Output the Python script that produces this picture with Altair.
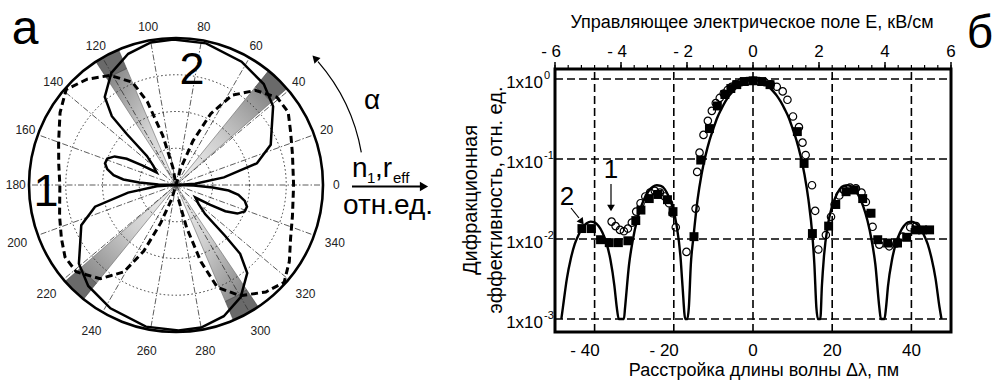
import math
import altair as alt
import pandas as pd

FONT = "Liberation Sans"

# ===================== panel "б" (right) : data =====================
pm_limits = [-50, 50]
eff_limits = [10 ** -3.1625, 10 ** 0.125]
kv_limits = [-6, 6]

theory_pm = [-48.4, -48.0, -47.0, -46.0, -45.0, -44.0, -43.0, -42.0, -41.0, -40.0, -39.0, -38.0, -37.0, -36.0, -35.0,
             -34.4, -33.9, -32.6, -32.3, -31.3, -30.3, -29.3, -28.3, -27.3, -26.3, -25.3, -24.3, -23.3, -22.3, -21.3,
             -20.3, -19.3, -18.3, -17.8, -17.1, -16.6, -16.2, -15.7, -15.0, -14.0, -13.0, -12.0, -11.0, -10.0, -9.0,
             -8.0, -7.0, -6.0, -5.0, -4.0, -3.0, -2.0, -1.0, 0.0, 1.0, 2.0, 3.0, 4.0, 5.0, 6.0, 7.0, 8.0, 9.0, 10.0,
             11.0, 12.0, 13.0, 14.0, 15.0, 15.5, 16.0, 16.4, 17.0, 17.4, 17.9, 18.9, 19.9, 20.9, 21.9, 22.9, 23.9, 24.9,
             25.9, 26.9, 27.9, 28.9, 29.9, 30.9, 31.9, 32.3, 33.2, 33.6, 34.1, 35.1, 36.1, 37.1, 38.1, 39.1, 40.1, 41.1,
             42.1, 43.1, 44.1, 45.1, 46.1, 47.1, 47.6]
theory_eff = [0.001, 0.0014, 0.0032, 0.0057, 0.0087, 0.0114, 0.014, 0.0157, 0.0165, 0.0161, 0.0145, 0.012, 0.0089,
              0.0055, 0.0026, 0.0014, 0.001, 0.001, 0.0014, 0.0048, 0.010, 0.017, 0.025, 0.033, 0.040, 0.045, 0.047,
              0.046, 0.042, 0.034, 0.025, 0.0149, 0.0059, 0.0026, 0.001, 0.001, 0.0014, 0.0048, 0.011, 0.031, 0.064,
              0.11, 0.17, 0.24, 0.33, 0.42, 0.52, 0.62, 0.71, 0.80, 0.87, 0.93, 0.96, 0.97, 0.96, 0.93, 0.87, 0.80,
              0.71, 0.62, 0.52, 0.42, 0.33, 0.24, 0.17, 0.11, 0.064, 0.031, 0.011, 0.0048, 0.0014, 0.001, 0.001,
              0.0026, 0.0059, 0.0149, 0.025, 0.034, 0.042, 0.046, 0.047, 0.045, 0.040, 0.033, 0.025, 0.017, 0.010,
              0.0048, 0.0014, 0.001, 0.001, 0.0014, 0.0026, 0.0055, 0.0089, 0.012, 0.0145, 0.0161, 0.0165, 0.0157,
              0.014, 0.0114, 0.0087, 0.0057, 0.0032, 0.0014, 0.001]

sq_pm = [-43.2, -40.8, -38.5, -36.3, -34.0, -31.6, -29.6, -28.3, -26.2, -24.0, -21.6, -20.2,
         -14.9, -13.2, -11.0, -9.0, -7.1, -5.6, -4.1, -2.2, 0.0, 2.2, 4.3,
         11.2, 12.9, 15.0,
         19.1, 20.9, 23.5, 25.6, 27.7, 29.8, 31.5, 34.0, 36.5, 38.8, 41.1, 42.8, 44.6]
sq_eff = [0.0135, 0.0135, 0.0098, 0.009, 0.009, 0.0095, 0.017, 0.023, 0.032, 0.036, 0.031, 0.022,
          0.0107, 0.097, 0.24, 0.46, 0.64, 0.76, 0.85, 0.93, 0.95, 0.93, 0.85,
          0.22, 0.088, 0.0117,
          0.0145, 0.027, 0.039, 0.041, 0.032, 0.021, 0.0098, 0.0089, 0.0089, 0.0105, 0.013, 0.013, 0.013]

circ_pm = [-35.7, -34.7, -33.6, -32.6, -31.6, -30.6, -29.5, -28.4, -27.2, -26.0, -24.8, -23.5, -22.3, -21.2, -20.3,
           -19.5, -16.8, -14.5, -14.1, -13.5, -12.5, -11.4, -10.4, -9.4, -8.4, -7.4, -6.4, -5.4, -4.4, -3.0, -1.5,
           0.0, 1.5, 3.0, 4.5, 6.0, 7.5, 8.7, 10.1, 11.6, 12.5, 13.3, 14.9, 15.7, 16.5,
           18.4, 19.7, 20.6, 21.8, 23.0, 24.5, 26.0, 27.4, 28.5, 29.5, 30.2, 31.9, 34.4, 36.2, 37.8, 39.7, 41.2]
circ_eff = [0.0165, 0.0145, 0.013, 0.0125, 0.0135, 0.016, 0.022, 0.028, 0.034, 0.038, 0.040, 0.038, 0.034, 0.028,
            0.021, 0.014, 0.0069, 0.024, 0.069, 0.12, 0.2, 0.3, 0.4, 0.5, 0.58, 0.66, 0.73, 0.8, 0.86, 0.91, 0.94,
            0.95, 0.94, 0.91, 0.86, 0.8, 0.7, 0.55, 0.34, 0.25, 0.16, 0.112, 0.047, 0.0225, 0.0074,
            0.0112, 0.019, 0.027, 0.035, 0.041, 0.044, 0.043, 0.038, 0.029, 0.021, 0.0142, 0.0085, 0.0081, 0.0088,
            0.0107, 0.014, 0.0145]

grid_pm = [-40, -20, 0, 20, 40]
bottom_labels = ["- 40", "- 20", "0", "20", "40"]
decades = [1.0, 0.1, 0.01, 0.001]
decade_exp = ["0", "-1", "-2", "-3"]
top_major = [-6, -4, -2, 0, 2, 4, 6]
top_labels = ["- 6", "- 4", "- 2", "0", "2", "4", "6"]
top_minor = [round(-6 + 0.4 * i, 1) for i in range(31)]

# ===================== panel "а" (left, polar) : data =====================
c1_deg = [280, 284, 288, 292, 300, 310, 318, 326, 335, 345, 0, 15, 25, 33, 41, 50, 58, 64, 69, 74, 90,
          100, 105, 109, 113, 121, 130, 139, 148, 160, 170, 180, 195, 205, 213, 221, 231, 239, 244, 248, 253, 270]
c1_r = [0.1, 0.3, 0.55, 0.75, 0.87, 0.95, 0.99, 0.93, 0.86, 0.82, 0.80, 0.82, 0.86, 0.91, 0.91, 0.84, 0.72, 0.54,
        0.32, 0.12, 0.0, 0.12, 0.35, 0.6, 0.76, 0.87, 0.94, 0.99, 0.93, 0.85, 0.81, 0.79, 0.82, 0.86, 0.9, 0.9, 0.82,
        0.69, 0.5, 0.28, 0.1, 0.0]

c2_deg = [0, 4, 9, 15, 23, 31, 39, 49, 62, 78, 91, 100, 110, 120, 129, 133, 134, 135, 140, 147, 150, 152, 155, 159,
          163, 167, 171, 174, 176, 178, 180, 184, 189, 195, 203, 211, 219, 229, 242, 258, 271, 280, 290, 300, 309,
          313, 314, 315, 320, 327, 330, 332, 335, 339, 343, 347, 351, 354, 356, 358, 360]
c2_r = [0.0, 0.13, 0.33, 0.57, 0.70, 0.76, 0.85, 0.91, 0.95, 0.985, 0.99, 0.985, 0.95, 0.88, 0.77, 0.64, 0.48, 0.28,
        0.2, 0.157, 0.27, 0.38, 0.46, 0.5, 0.505, 0.48, 0.43, 0.36, 0.25, 0.12, 0.0,
        0.13, 0.33, 0.57, 0.70, 0.76, 0.85, 0.91, 0.95, 0.985, 0.99, 0.985, 0.95, 0.88, 0.77, 0.64, 0.48, 0.28,
        0.2, 0.157, 0.27, 0.38, 0.46, 0.5, 0.505, 0.48, 0.43, 0.36, 0.25, 0.12, 0.0]

angle_ticks = list(range(0, 360, 20))
grid_r = [0.25, 0.5, 0.75]
wedge_a1 = [41, 113, 221, 293]
wedge_a2 = [51, 123, 231, 304]

# ===================== scales =====================
XR = alt.Scale(domain=pm_limits, range=[555, 951], nice=False, zero=False)
XK = alt.Scale(domain=kv_limits, range=[555, 951], nice=False, zero=False)
YR = alt.Scale(type="log", domain=eff_limits, range=[332, 69], nice=False)
PX = alt.Scale(domain=[-1, 1], range=[29, 323], nice=False, zero=False)
PY = alt.Scale(domain=[-1, 1], range=[332, 38], nice=False, zero=False)
RS = alt.Scale(type="linear", domain=[0, 1], range=[0, 147], nice=False, zero=True)
SS = alt.Scale(type="pow", exponent=2, domain=[0, 1], range=[0, 294 ** 2], nice=False, zero=True)

one = pd.DataFrame({"k": [0]})
layers = []


def txt(s, x, y, size, align="center", baseline="middle", **kw):
    return alt.Chart(one).mark_text(text=s, font=FONT, fontSize=size, align=align, baseline=baseline,
                                    color="black", **kw).encode(x=alt.value(x), y=alt.value(y))


def pol_xy():
    return dict(px="datum.r * cos(datum.deg * PI / 180)", py="datum.r * sin(datum.deg * PI / 180)")


# ---------------- polar panel ----------------
grads = [
    dict(x1=0, y1=1, x2=1, y2=0),
    dict(x1=1, y1=1, x2=0, y2=0),
    dict(x1=1, y1=0, x2=0, y2=1),
    dict(x1=0, y1=0, x2=1, y2=1),
]
wdf = pd.DataFrame({"a1": wedge_a1, "a2": wedge_a2, "k": [0, 1, 2, 3]})
for k, g in enumerate(grads):
    grad = alt.LinearGradient(gradient="linear", stops=[
        alt.GradientStop(color="#f4f4f4", offset=0),
        alt.GradientStop(color="#cfcfcf", offset=0.45),
        alt.GradientStop(color="#808080", offset=1)], **g)
    layers.append(
        alt.Chart(wdf).transform_filter(f"datum.k == {k}").transform_calculate(
            c="0", r0="0", r1="0.86",
            ts="PI / 2 - datum.a2 * PI / 180", te="PI / 2 - datum.a1 * PI / 180"
        ).mark_arc(fill=grad, stroke="#666666", strokeWidth=0.6).encode(
            x=alt.X("c:Q", scale=PX, axis=None), y=alt.Y("c:Q", scale=PY, axis=None),
            theta=alt.Theta("ts:Q", scale=None, stack=False), theta2=alt.Theta2("te:Q"),
            radius=alt.Radius("r1:Q", scale=RS), radius2=alt.Radius2("r0:Q"))
    )
layers.append(
    alt.Chart(wdf).transform_calculate(
        c="0", r0="0.86", r1="1",
        ts="PI / 2 - datum.a2 * PI / 180", te="PI / 2 - datum.a1 * PI / 180"
    ).mark_arc(fill="#6a6a6a", stroke="#444444", strokeWidth=0.6).encode(
        x=alt.X("c:Q", scale=PX, axis=None), y=alt.Y("c:Q", scale=PY, axis=None),
        theta=alt.Theta("ts:Q", scale=None, stack=False), theta2=alt.Theta2("te:Q"),
        radius=alt.Radius("r1:Q", scale=RS), radius2=alt.Radius2("r0:Q"))
)

# radial dash-dot lines
layers.append(
    alt.Chart(pd.DataFrame({"deg": angle_ticks})).transform_calculate(
        x0="0", y0="0", x1="cos(datum.deg * PI / 180)", y1="sin(datum.deg * PI / 180)"
    ).mark_rule(color="#333333", strokeWidth=0.8, strokeDash=[6, 2, 1.5, 2]).encode(
        x=alt.X("x0:Q", scale=PX, axis=None), y=alt.Y("y0:Q", scale=PY, axis=None),
        x2="x1:Q", y2="y1:Q")
)


def circles(rv, **mk):
    return alt.Chart(pd.DataFrame({"r": rv})).transform_calculate(c="0").mark_point(
        shape="circle", filled=False, opacity=1, **mk).encode(
        x=alt.X("c:Q", scale=PX, axis=None), y=alt.Y("c:Q", scale=PY, axis=None),
        size=alt.Size("r:Q", scale=SS, legend=None))


layers.append(circles(grid_r, color="#333333", strokeWidth=1.0, strokeDash=[1.5, 2.5]))
layers.append(circles([1.0], color="black", strokeWidth=2.6))


def polar_line(deg, r, **mk):
    df = pd.DataFrame({"i": list(range(len(deg))), "deg": deg, "r": r})
    return alt.Chart(df).transform_calculate(**pol_xy()).mark_line(**mk).encode(
        x=alt.X("px:Q", scale=PX, axis=None), y=alt.Y("py:Q", scale=PY, axis=None),
        order=alt.Order("i:Q"))


layers.append(polar_line(c1_deg, c1_r, color="black", strokeWidth=3, strokeDash=[7, 4]))
layers.append(polar_line(c2_deg, c2_r, color="black", strokeWidth=2.5))

# angle labels
layers.append(
    alt.Chart(pd.DataFrame({"deg": angle_ticks})).transform_calculate(
        r="datum.deg <= 180 ? 1.09 : 1.15", t="toString(datum.deg)"
    ).transform_calculate(**pol_xy()).mark_text(font=FONT, fontSize=12, color="#222222").encode(
        x=alt.X("px:Q", scale=PX, axis=None), y=alt.Y("py:Q", scale=PY, axis=None), text="t:N")
)

# curved arrow alpha
layers.append(
    alt.Chart(one).transform_calculate(c="0", r="1.28").mark_arc(
        fillOpacity=0, stroke="black", strokeWidth=1.2).encode(
        x=alt.X("c:Q", scale=PX, axis=None), y=alt.Y("c:Q", scale=PY, axis=None),
        theta=alt.value(math.pi / 2 - math.radians(41)), theta2=alt.value(math.pi / 2 - math.radians(10)),
        radius=alt.Radius("r:Q", scale=RS), radius2=alt.Radius2("r:Q"))
)
layers.append(
    alt.Chart(pd.DataFrame({"deg": [42], "r": [1.28]})).transform_calculate(**pol_xy()).mark_point(
        shape="triangle", filled=True, color="black", size=70, angle=316, opacity=1).encode(
        x=alt.X("px:Q", scale=PX, axis=None), y=alt.Y("py:Q", scale=PY, axis=None))
)

# texts of panel a
layers.append(txt("а", 25, 44, 48, baseline="alphabetic"))
layers.append(txt("1", 46, 192, 45))
layers.append(txt("2", 192, 70, 45))
layers.append(txt("α", 372, 101, 28))
layers.append(txt("n", 352, 177, 28, align="left", baseline="alphabetic"))
layers.append(txt("1", 367, 183, 15, align="left", baseline="alphabetic"))
layers.append(txt(",r", 375, 177, 28, align="left", baseline="alphabetic"))
layers.append(txt("eff", 393, 183, 15, align="left", baseline="alphabetic"))
layers.append(txt("отн.ед.", 343, 214, 28, align="left", baseline="alphabetic"))
layers.append(alt.Chart(one).mark_rule(color="black", strokeWidth=2).encode(
    x=alt.value(352), x2=alt.value(420), y=alt.value(186.5)))
layers.append(alt.Chart(one).mark_point(shape="triangle-right", filled=True, color="black", size=90,
                                        opacity=1).encode(x=alt.value(424), y=alt.value(186.5)))

# ---------------- right panel ----------------
layers.append(
    alt.Chart(pd.DataFrame({"v": grid_pm})).transform_calculate(
        y0=str(eff_limits[0]), y1=str(eff_limits[1])
    ).mark_rule(color="black", strokeWidth=1.6, strokeDash=[8, 4]).encode(
        x=alt.X("v:Q", scale=XR, axis=None), y=alt.Y("y0:Q", scale=YR, axis=None), y2="y1:Q")
)
layers.append(
    alt.Chart(pd.DataFrame({"v": decades})).transform_calculate(
        x0=str(pm_limits[0]), x1=str(pm_limits[1])
    ).mark_rule(color="black", strokeWidth=1.6, strokeDash=[8, 4]).encode(
        y=alt.Y("v:Q", scale=YR, axis=None), x=alt.X("x0:Q", scale=XR, axis=None), x2="x1:Q")
)
layers.append(
    alt.Chart(pd.DataFrame({"pm": theory_pm, "eff": theory_eff})).mark_line(
        color="black", strokeWidth=2.4, interpolate="monotone").encode(
        x=alt.X("pm:Q", scale=XR, axis=None), y=alt.Y("eff:Q", scale=YR, axis=None))
)
layers.append(
    alt.Chart(pd.DataFrame({"pm": sq_pm, "eff": sq_eff})).mark_point(
        shape="square", filled=True, color="black", size=80, opacity=1).encode(
        x=alt.X("pm:Q", scale=XR, axis=None), y=alt.Y("eff:Q", scale=YR, axis=None))
)
layers.append(
    alt.Chart(pd.DataFrame({"pm": circ_pm, "eff": circ_eff})).mark_point(
        shape="circle", filled=False, color="black", size=55, strokeWidth=1.2, opacity=1).encode(
        x=alt.X("pm:Q", scale=XR, axis=None), y=alt.Y("eff:Q", scale=YR, axis=None))
)
layers.append(
    alt.Chart(pd.DataFrame({"x0": [pm_limits[0]], "x1": [pm_limits[1]],
                            "y0": [eff_limits[0]], "y1": [eff_limits[1]]})).mark_rect(
        fillOpacity=0, stroke="black", strokeWidth=3).encode(
        x=alt.X("x0:Q", scale=XR, axis=None), x2="x1:Q",
        y=alt.Y("y0:Q", scale=YR, axis=None), y2="y1:Q")
)
layers.append(alt.Chart(pd.DataFrame({"v": top_minor})).mark_rule(color="black", strokeWidth=1.2).encode(
    x=alt.X("v:Q", scale=XK, axis=None), y=alt.value(69), y2=alt.value(65)))
layers.append(alt.Chart(pd.DataFrame({"v": top_major})).mark_rule(color="black", strokeWidth=1.5).encode(
    x=alt.X("v:Q", scale=XK, axis=None), y=alt.value(69), y2=alt.value(62)))
tl = pd.DataFrame({"v": top_major, "t": top_labels})
layers.append(alt.Chart(tl).transform_filter("datum.v < 0").mark_text(
    font=FONT, fontSize=17, align="right", baseline="middle", dx=6, color="black").encode(
    x=alt.X("v:Q", scale=XK, axis=None), y=alt.value(52), text="t:N"))
layers.append(alt.Chart(tl).transform_filter("datum.v >= 0").mark_text(
    font=FONT, fontSize=17, align="center", baseline="middle", color="black").encode(
    x=alt.X("v:Q", scale=XK, axis=None), y=alt.value(52), text="t:N"))
bl = pd.DataFrame({"v": grid_pm, "t": bottom_labels})
layers.append(alt.Chart(bl).transform_filter("datum.v < 0").mark_text(
    font=FONT, fontSize=17, align="right", baseline="middle", dx=5, color="black").encode(
    x=alt.X("v:Q", scale=XR, axis=None), y=alt.value(351), text="t:N"))
layers.append(alt.Chart(bl).transform_filter("datum.v >= 0").mark_text(
    font=FONT, fontSize=17, align="center", baseline="middle", color="black").encode(
    x=alt.X("v:Q", scale=XR, axis=None), y=alt.value(351), text="t:N"))
yl = pd.DataFrame({"v": decades, "e": decade_exp})
layers.append(alt.Chart(yl).transform_calculate(t="'1x10'").mark_text(
    font=FONT, fontSize=17, align="right", baseline="middle", dy=4, color="black").encode(
    y=alt.Y("v:Q", scale=YR, axis=None), x=alt.value(543), text="t:N"))
layers.append(alt.Chart(yl).mark_text(
    font=FONT, fontSize=11, align="left", baseline="middle", dy=-3, color="black").encode(
    y=alt.Y("v:Q", scale=YR, axis=None), x=alt.value(544), text="e:N"))

layers.append(txt("Управляющее электрическое поле E,  кВ/см", 752, 23, 18))
layers.append(txt("Расстройка длины волны Δλ, пм", 764, 371, 18))
layers.append(txt(["Дифракционная", "эффективность,  отн. ед."], 471, 200, 20, angle=270, lineHeight=25))
layers.append(txt("б", 980, 48, 46, baseline="alphabetic"))

layers.append(txt("1", 611, 170, 26))
layers.append(alt.Chart(one).mark_rule(color="black", strokeWidth=1.2).encode(
    x=alt.value(611), y=alt.value(184), y2=alt.value(206)))
layers.append(alt.Chart(one).mark_point(shape="triangle-down", filled=True, color="black", size=60,
                                        opacity=1).encode(x=alt.value(611), y=alt.value(208)))
layers.append(txt("2", 567, 197, 26))
layers.append(alt.Chart(one).mark_rule(color="black", strokeWidth=1.2).encode(
    x=alt.value(571), y=alt.value(208), x2=alt.value(579), y2=alt.value(218)))
layers.append(alt.Chart(one).mark_point(shape="triangle", filled=True, color="black", size=60, angle=143,
                                        opacity=1).encode(x=alt.value(581), y=alt.value(221)))

chart = alt.layer(*layers).properties(
    width=992, height=380, autosize=alt.AutoSizeParams(type="none"), padding=0
).resolve_scale(x="independent", y="independent").configure_view(strokeWidth=0)

chart.save("out.html", embed_options={"renderer": "svg", "actions": False})
